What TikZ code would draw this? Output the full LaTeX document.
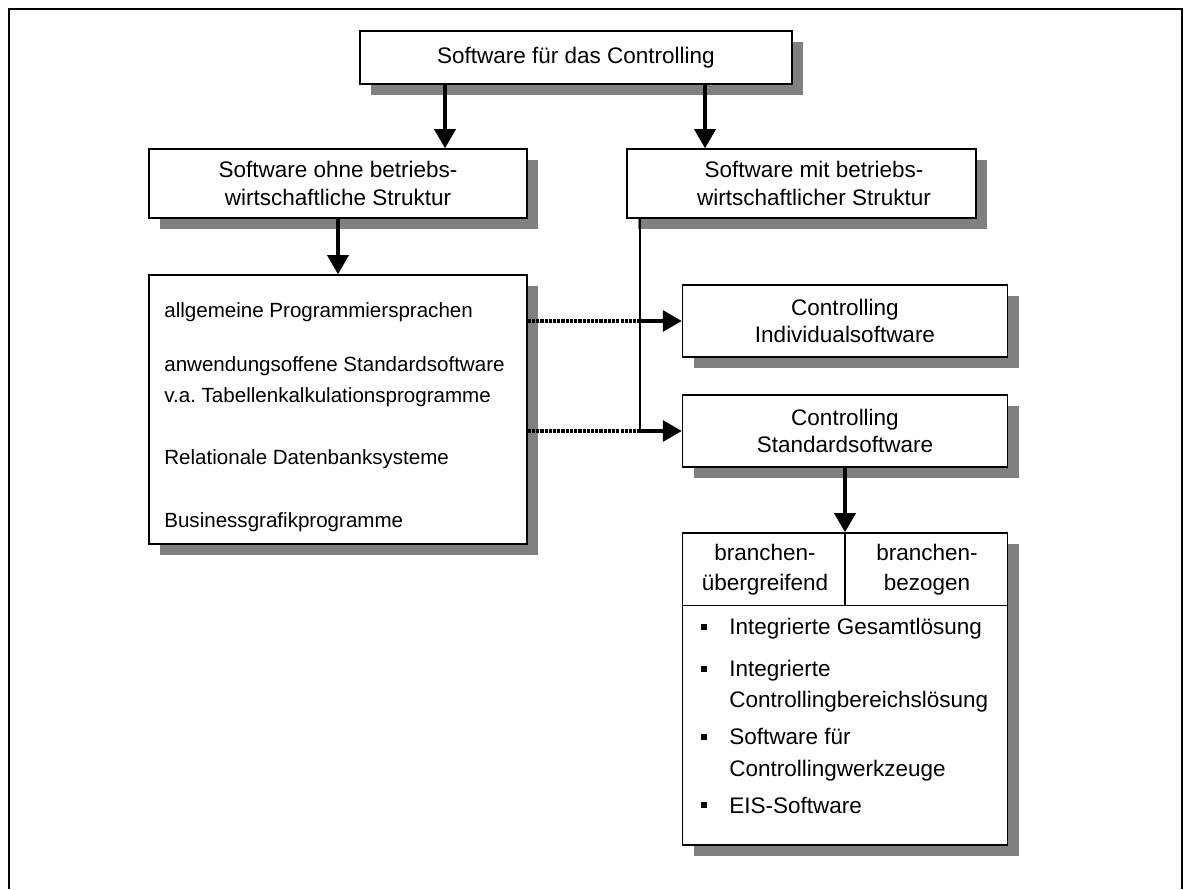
\documentclass[tikz,border=0pt]{standalone}
\usepackage{fontspec}
\setmainfont{Liberation Sans}
\usetikzlibrary{positioning, arrows.meta, calc, shadows}
\definecolor{cS}{RGB}{128,128,128}
\frenchspacing

\newcommand{\boxfont}{\fontsize{12.8}{15.6}\selectfont}
\newcommand{\headfont}{\fontsize{12.8}{17}\selectfont}
\newcommand{\listfont}{\fontsize{11.7}{14}\selectfont}

\begin{document}
\begin{tikzpicture}[>={Triangle[length=0.38cm, width=0.42cm]},
    box/.style={draw, line width=0.85pt, fill=white, align=center, font=\boxfont, inner sep=0pt,
        drop shadow={shadow xshift=0.22cm, shadow yshift=-0.22cm, fill=cS, opacity=1}},
    txt/.style={anchor=base west, inner sep=0pt, font=\listfont},
    item/.style={anchor=base west, inner sep=0pt, font=\boxfont},
    head/.style={align=center, inner sep=0pt, font=\headfont},
    sq/.style={fill=black, minimum size=0.11cm, inner sep=0pt},
    arr/.style={->, line width=1.9pt},
    dotline/.style={line width=1.9pt, dash pattern=on 1.8pt off 0.6pt}]

    \useasboundingbox (0,0) rectangle (23.7,17.78);

    % outer frame (open at the bottom)
    \draw[line width=1.3pt] (0.18,0) -- (0.18,17.6) -- (23.64,17.6) -- (23.64,0);

    % --- Top level ---
    \node[box, minimum width=8.64cm, minimum height=1.06cm] (top) at (11.52,16.63) {Software für das Controlling};

    % --- Second level ---
    \node[box, minimum width=7.56cm, minimum height=1.38cm] (ohne) at (6.76,14.11) {Software ohne betriebs-\\wirtschaftliche Struktur};
    \node[box, minimum width=6.98cm, minimum height=1.38cm] (mit) at (16.03,14.11) {\hspace*{0.5cm}Software mit betriebs-\\\hspace*{0.5cm}wirtschaftlicher Struktur};

    % list box (left)
    \node[box, minimum width=7.56cm, minimum height=5.38cm] (list) at (6.76,9.59) {};
    \node[txt] (l1) at (3.28,11.42) {allgemeine Programmiersprachen};
    \node[txt] (l2) at (3.28,10.34) {anwendungsoffene Standardsoftware};
    \node[txt] (l3) at (3.28,9.72) {v.a. Tabellenkalkulationsprogramme};
    \node[txt] (l4) at (3.28,8.48) {Relationale Datenbanksysteme};
    \node[txt] (l5) at (3.28,7.22) {Businessgrafikprogramme};

    % --- Right column ---
    \node[box, minimum width=6.5cm, minimum height=1.44cm] (indiv) at (16.9,11.36) {Controlling\\Individualsoftware};
    \node[box, minimum width=6.5cm, minimum height=1.44cm] (std) at (16.9,9.16) {Controlling\\Standardsoftware};

    % branch box
    \node[box, minimum width=6.5cm, minimum height=6.24cm] (branch) at (16.9,4.0) {};
    \draw[line width=0.85pt] (branch.north) -- ++(0,-1.46) coordinate (hmid);
    \draw[line width=0.85pt] (hmid -| branch.west) -- (hmid -| branch.east);
    \node[head] (h1) at (15.3,6.39) {branchen-\\übergreifend};
    \node[head] (h2) at (18.54,6.39) {branchen-\\bezogen};

    \node[sq] (b1) at (14.08,5.24) {};
    \node[item] (i1) at (14.58,5.08) {Integrierte Gesamtlösung};
    \node[sq] (b2) at (14.08,4.40) {};
    \node[item] (i2) at (14.58,4.24) {Integrierte};
    \node[item] (i2b) at (14.58,3.62) {Controllingbereichslösung};
    \node[sq] (b3) at (14.08,3.04) {};
    \node[item] (i3) at (14.58,2.88) {Software für};
    \node[item] (i3b) at (14.58,2.24) {Controllingwerkzeuge};
    \node[sq] (b4) at (14.08,1.68) {};
    \node[item] (i4) at (14.58,1.52) {EIS-Software};

    % --- Connectors ---
    \coordinate (t1) at ([xshift=-2.62cm]top.south);
    \coordinate (t2) at ([xshift=2.58cm]top.south);
    \draw[arr] (t1) -- (t1 |- ohne.north);
    \draw[arr] (t2) -- (t2 |- mit.north);
    \draw[arr] (ohne) -- (list);
    \draw[arr] (std) -- (branch);

    % from mit down to both controlling boxes
    \coordinate (m1) at ([xshift=-3.23cm]mit.south);
    \draw[line width=1.2pt] (m1) -- (m1 |- std.west);
    \draw[dotline] (list.east |- indiv.west) -- (m1 |- indiv.west);
    \draw[arr] (m1 |- indiv.west) -- (indiv.west);
    \draw[dotline] (list.east |- std.west) -- (m1 |- std.west);
    \draw[arr] (m1 |- std.west) -- (std.west);

\end{tikzpicture}
\end{document}
